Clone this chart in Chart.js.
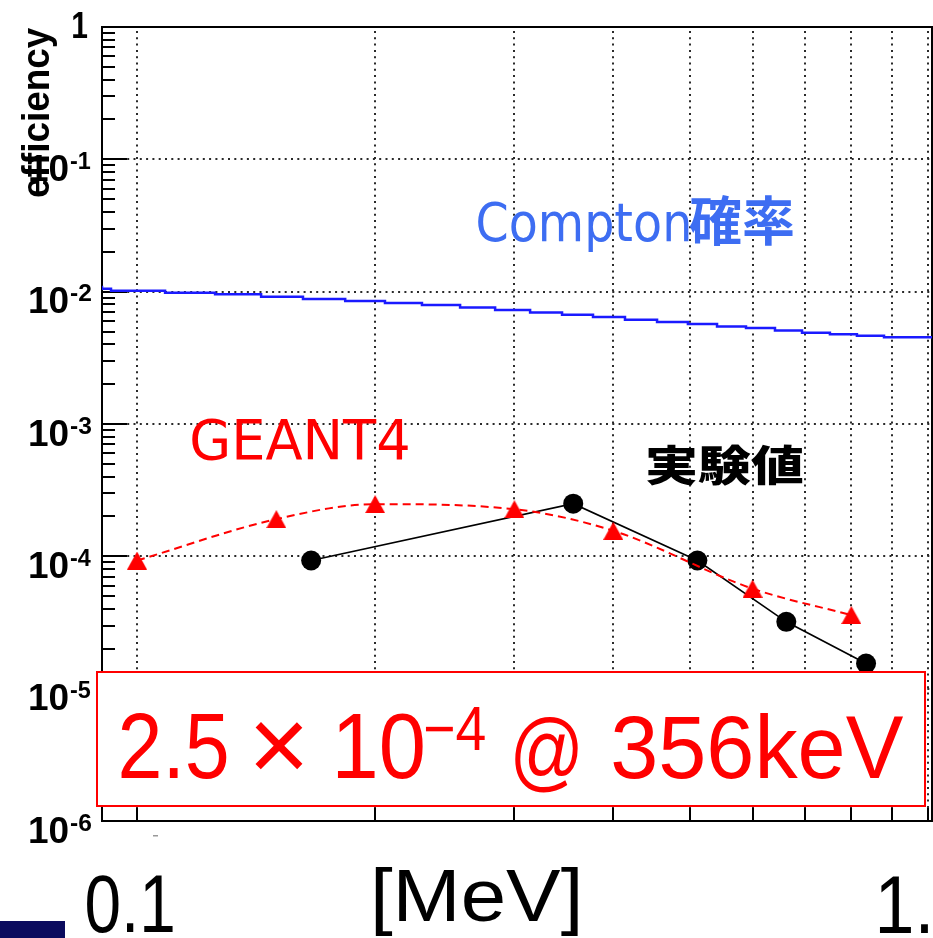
<!DOCTYPE html>
<html>
<head>
<meta charset="utf-8">
<script src="https://cdn.jsdelivr.net/npm/chart.js@4.4.0/dist/chart.umd.min.js"></script>
<style>
  html, body { margin: 0; padding: 0; background: #fff; overflow: hidden; }
  #wrap { position: relative; width: 933px; height: 938px; }
</style>
</head>
<body>
<div id="wrap"><canvas id="c" width="933" height="938"></canvas></div>
<script>
// ---- data (energy in MeV, efficiency) ----
const geantEnergy = [0.1, 0.15, 0.2, 0.3, 0.4, 0.6, 0.8];
const geantEff    = [9.3e-5, 1.91e-4, 2.48e-4, 2.27e-4, 1.56e-4, 5.7e-5, 3.6e-5];

const measEnergy = [0.166, 0.356, 0.511, 0.662, 0.835];
const measEff    = [9.3e-5, 2.5e-4, 9.3e-5, 3.2e-5, 1.55e-5];

// Compton probability histogram: bin edges and bin contents
const comptonEdges = [0.0903, 0.0927, 0.1085, 0.1255, 0.1435, 0.1621, 0.1833, 0.2058, 0.2292,
                      0.2561, 0.2836, 0.3140, 0.3446, 0.3771, 0.4139, 0.4544, 0.4971, 0.5411,
                      0.5887, 0.6405, 0.6930, 0.7516, 0.8131, 0.8798, 0.9489, 1.0117];
const comptonProb  = [0.01110, 0.01054, 0.01018, 0.00983, 0.00954, 0.00917, 0.00880, 0.00850,
                      0.00821, 0.00794, 0.00760, 0.00727, 0.00697, 0.00669, 0.00643, 0.00614,
                      0.00589, 0.00569, 0.00546, 0.00531, 0.00509, 0.00489, 0.00477, 0.00464,
                      0.00452];

const xGridValues = [0.1, 0.2, 0.3, 0.4, 0.5, 0.6, 0.7, 0.8, 0.9, 1.0];
const yDecades    = [1, 1e-1, 1e-2, 1e-3, 1e-4, 1e-5, 1e-6];
const yExponents  = ['', '-1', '-2', '-3', '-4', '-5', '-6'];

// ---- helpers ----
// Draw a string so that its ink fills the box (l,t)-(r,b)
function inkText(ctx, str, font, color, l, t, r, b) {
  ctx.save();
  ctx.font = font;
  ctx.textAlign = 'left';
  ctx.textBaseline = 'alphabetic';
  const m = ctx.measureText(str);
  const iw = m.actualBoundingBoxLeft + m.actualBoundingBoxRight;
  const ih = m.actualBoundingBoxAscent + m.actualBoundingBoxDescent;
  ctx.translate(l, t);
  ctx.scale((r - l) / iw, (b - t) / ih);
  ctx.fillStyle = color;
  ctx.fillText(str, m.actualBoundingBoxLeft, m.actualBoundingBoxAscent);
  ctx.restore();
}

// filled up-triangle marker
const tri = document.createElement('canvas');
tri.width = 20; tri.height = 18;
(function () {
  const t = tri.getContext('2d');
  t.fillStyle = '#ff0000';
  t.beginPath();
  t.moveTo(10, 0); t.lineTo(20, 18); t.lineTo(0, 18); t.closePath();
  t.fill();
})();

const comptonData = comptonEdges.map((e, i) => ({ x: e, y: comptonProb[Math.min(i, comptonProb.length - 1)] }));

// ---- frame, grid, ticks and text ----
const decorations = {
  id: 'decorations',
  beforeDatasetsDraw(chart) {
    const ctx = chart.ctx;
    const xs = chart.scales.x, ys = chart.scales.y;
    const a = chart.chartArea;
    ctx.save();
    // dotted grid
    ctx.strokeStyle = '#2a2a2a';
    ctx.lineWidth = 2;
    ctx.setLineDash([2, 4.3]);
    xGridValues.forEach(v => {
      const x = Math.round(xs.getPixelForValue(v));
      ctx.beginPath(); ctx.moveTo(x, a.top + 4); ctx.lineTo(x, a.bottom); ctx.stroke();
    });
    yDecades.forEach(v => {
      if (v >= 1 || v <= 1e-6) return;
      const y = Math.round(ys.getPixelForValue(v));
      ctx.beginPath(); ctx.moveTo(a.left, y); ctx.lineTo(a.right, y); ctx.stroke();
    });
    ctx.setLineDash([]);
    // y ticks (inside the frame)
    ctx.strokeStyle = '#000';
    ctx.lineWidth = 2;
    for (let e = -6; e <= 0; e++) {
      for (let k = 1; k <= 9; k++) {
        const v = k * Math.pow(10, e);
        if (v > 1.0001) break;
        const y = Math.round(ys.getPixelForValue(v));
        const len = k === 1 ? 25 : 13;
        ctx.beginPath(); ctx.moveTo(a.left, y); ctx.lineTo(a.left + len, y); ctx.stroke();
      }
    }
    // x ticks
    xGridValues.forEach(v => {
      const x = Math.round(xs.getPixelForValue(v));
      ctx.beginPath(); ctx.moveTo(x, a.bottom); ctx.lineTo(x, a.bottom - 13); ctx.stroke();
    });
    // frame
    ctx.strokeRect(a.left, a.top, a.right - a.left, a.bottom - a.top);
    ctx.restore();
  },
  afterDatasetsDraw(chart) {
    const ctx = chart.ctx;
    const ys = chart.scales.y;
    ctx.save();

    // y tick labels
    const lab = "bold 36px 'Liberation Sans'";
    const sup = "bold 23px 'Liberation Sans'";
    yDecades.forEach((v, i) => {
      const y = ys.getPixelForValue(v);
      if (i === 0) {
        inkText(ctx, '1', lab, '#000', 73, 12, 88, 38);
        return;
      }
      inkText(ctx, '10', lab, '#000', 30, y - 5, 68, y + 21.5);
      inkText(ctx, yExponents[i], sup, '#000', 70, y - 7.5, 91, y + 9.5);
    });

    // y axis title
    ctx.save();
    ctx.translate(20, 197);
    ctx.rotate(-Math.PI / 2);
    inkText(ctx, 'efficiency', "bold 40px 'Liberation Sans'", '#000', 0, 0, 170, 37);
    ctx.restore();

    // annotations
    inkText(ctx, 'Compton', "55px 'DejaVu Sans'", '#3d6df2', 478, 201, 689, 253);
    inkText(ctx, '確率', "bold 54px 'Noto Sans CJK JP'", '#3d6df2', 689, 195, 793, 246);
    inkText(ctx, 'GEANT4', "58px 'DejaVu Sans'", '#ff0000', 192, 417, 408, 460);
    inkText(ctx, '実験値', "900 52px 'Noto Sans CJK JP'", '#000', 647, 444, 803, 486);

    // highlighted value box
    ctx.fillStyle = '#fff';
    ctx.fillRect(96, 671, 830, 136);
    ctx.strokeStyle = '#ff0000';
    ctx.lineWidth = 2;
    ctx.strokeRect(97, 672, 828, 134);
    const big = "92px 'Liberation Sans'";
    inkText(ctx, '2.5', big, '#ff0000', 121, 713, 227, 779);
    inkText(ctx, '×', big, '#ff0000', 255, 722, 303, 770);
    inkText(ctx, '10', big, '#ff0000', 338, 713, 423, 779);
    inkText(ctx, '−4', "60px 'Liberation Sans'", '#ff0000', 425, 707, 485, 750);
    inkText(ctx, '@', big, '#ff0000', 515, 716, 578, 792);
    inkText(ctx, '356keV', big, '#ff0000', 613, 713, 903, 779);

    // x axis labels
    ctx.fillStyle = '#999';
    ctx.fillRect(153, 835, 5, 1.5);
    const xl = "80px 'Liberation Sans'";
    inkText(ctx, '0.1', xl, '#000', 87, 875, 173, 933);
    inkText(ctx, '[MeV]', xl, '#000', 375, 868, 578, 937);
    inkText(ctx, '1.', xl, '#000', 880, 877, 928, 933);

    ctx.fillStyle = '#0b0b5e';
    ctx.fillRect(0, 921, 65, 17);
    ctx.restore();
  }
};

new Chart(document.getElementById('c').getContext('2d'), {
  type: 'line',
  data: {
    datasets: [
      {
        label: 'GEANT4',
        data: geantEnergy.map((e, i) => ({ x: e, y: geantEff[i] })),
        borderColor: '#ff0000',
        borderWidth: 2,
        borderDash: [8, 5],
        cubicInterpolationMode: 'monotone',
        pointStyle: tri,
        pointRadius: 10,
        order: 0
      },
      {
        label: '実験値',
        data: measEnergy.map((e, i) => ({ x: e, y: measEff[i] })),
        borderColor: '#000',
        borderWidth: 1.6,
        pointStyle: 'circle',
        pointRadius: 10,
        pointBackgroundColor: '#000',
        pointBorderWidth: 0,
        order: 1
      },
      {
        label: 'Compton確率',
        data: comptonData,
        stepped: 'after',
        borderColor: '#1a1aff',
        borderWidth: 2.5,
        pointRadius: 0,
        order: 2
      }
    ]
  },
  options: {
    responsive: false,
    animation: false,
    devicePixelRatio: 1,
    layout: { autoPadding: false, padding: { left: 102, top: 27, right: 1, bottom: 117 } },
    scales: {
      x: { type: 'logarithmic', min: 0.0903, max: 1.0117, display: false },
      y: { type: 'logarithmic', min: 1e-6, max: 1, display: false }
    },
    plugins: { legend: { display: false }, tooltip: { enabled: false } }
  },
  plugins: [decorations]
});
</script>
</body>
</html>
